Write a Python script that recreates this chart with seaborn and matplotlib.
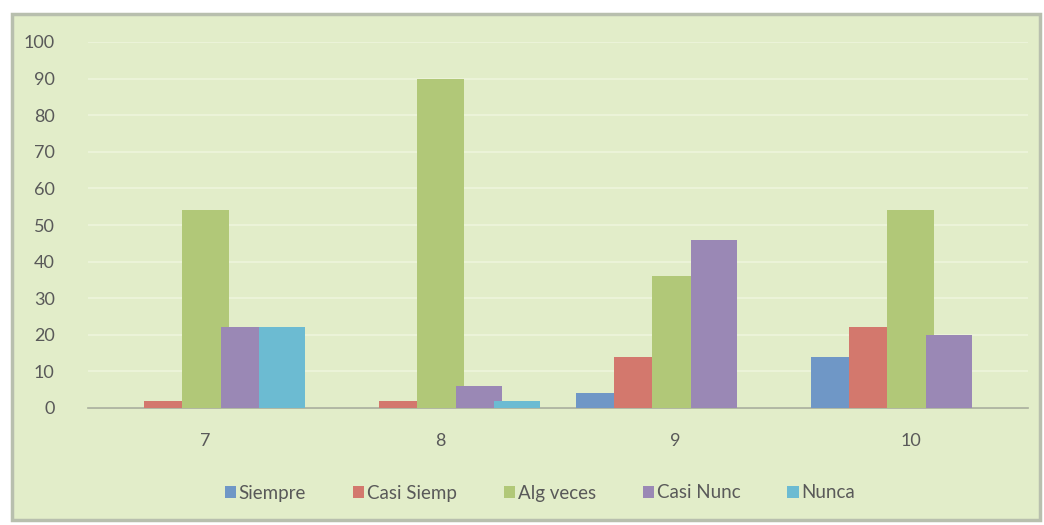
import pandas as pd
import matplotlib.pyplot as plt
import seaborn as sns
from matplotlib.patches import Rectangle

# datos
grupos = ['7', '8', '9', '10']
series = ['Siempre', 'Casi Siemp', 'Alg veces', 'Casi Nunc', 'Nunca']
siempre = [0, 0, 4, 14]
casi_siemp = [2, 2, 14, 22]
alg_veces = [54, 90, 36, 54]
casi_nunc = [22, 6, 46, 20]
nunca = [22, 2, 0, 0]

colores = ['#6f97c6', '#d3786d', '#b1c878', '#9a88b5', '#6cbbd2']
fondo = '#e2edc9'

valores = [siempre, casi_siemp, alg_veces, casi_nunc, nunca]
filas = []
for s, vals in zip(series, valores):
    for g, v in zip(grupos, vals):
        filas.append({'Grupo': g, 'Serie': s, 'Valor': v})
df = pd.DataFrame(filas)

sns.set_style('white')
plt.rcParams['font.family'] = ['Lato', 'DejaVu Sans']

fig = plt.figure(figsize=(10.44, 5.25), dpi=100, facecolor='white')
# marco del grafico (en un eje de fondo)
bg = fig.add_axes([0, 0, 1, 1], zorder=-10)
bg.set_axis_off()
bg.set_xlim(0, 1044)
bg.set_ylim(525, 0)
bg.add_patch(Rectangle((12, 14), 1028, 506, facecolor=fondo,
                       edgecolor='#b8bfae', linewidth=2.5))

ax = fig.add_axes([88 / 1044, 1 - 408 / 525, 940 / 1044, 366 / 525])
ax.set_facecolor(fondo)

sns.barplot(data=df, x='Grupo', y='Valor', hue='Serie', order=grupos,
            hue_order=series, palette=colores, width=0.81, ax=ax,
            saturation=1, zorder=3)

# barras un poco superpuestas como en excel
ancho = 0.196
for p in ax.patches:
    c = p.get_x() + p.get_width() / 2
    p.set_x(c - ancho / 2)
    p.set_width(ancho)
    p.set_edgecolor('none')

ax.set_ylim(0, 100)
ax.set_xlim(-0.5, 3.5)
ax.set_yticks(range(0, 101, 10))
ax.yaxis.grid(True, color='#eef5dc', linewidth=1.2, zorder=0)
ax.set_axisbelow(True)
for s in ['top', 'right', 'left']:
    ax.spines[s].set_visible(False)
ax.spines['bottom'].set_color('#a8ae9c')
ax.spines['bottom'].set_linewidth(1.2)
ax.tick_params(axis='both', colors='#595959', labelsize=13, length=0)
ax.tick_params(axis='x', pad=18)
ax.tick_params(axis='y', pad=24)
ax.set_xlabel('')
ax.set_ylabel('')

ax.legend(loc='center', bbox_to_anchor=(540 / 1044, 32 / 525),
          bbox_transform=fig.transFigure, ncol=5, frameon=False,
          handlelength=0.6, handleheight=0.6, handletextpad=0.15,
          columnspacing=2.5, fontsize=13.5, labelcolor='#595959')

fig.savefig('out.png', dpi=100, facecolor='white')
